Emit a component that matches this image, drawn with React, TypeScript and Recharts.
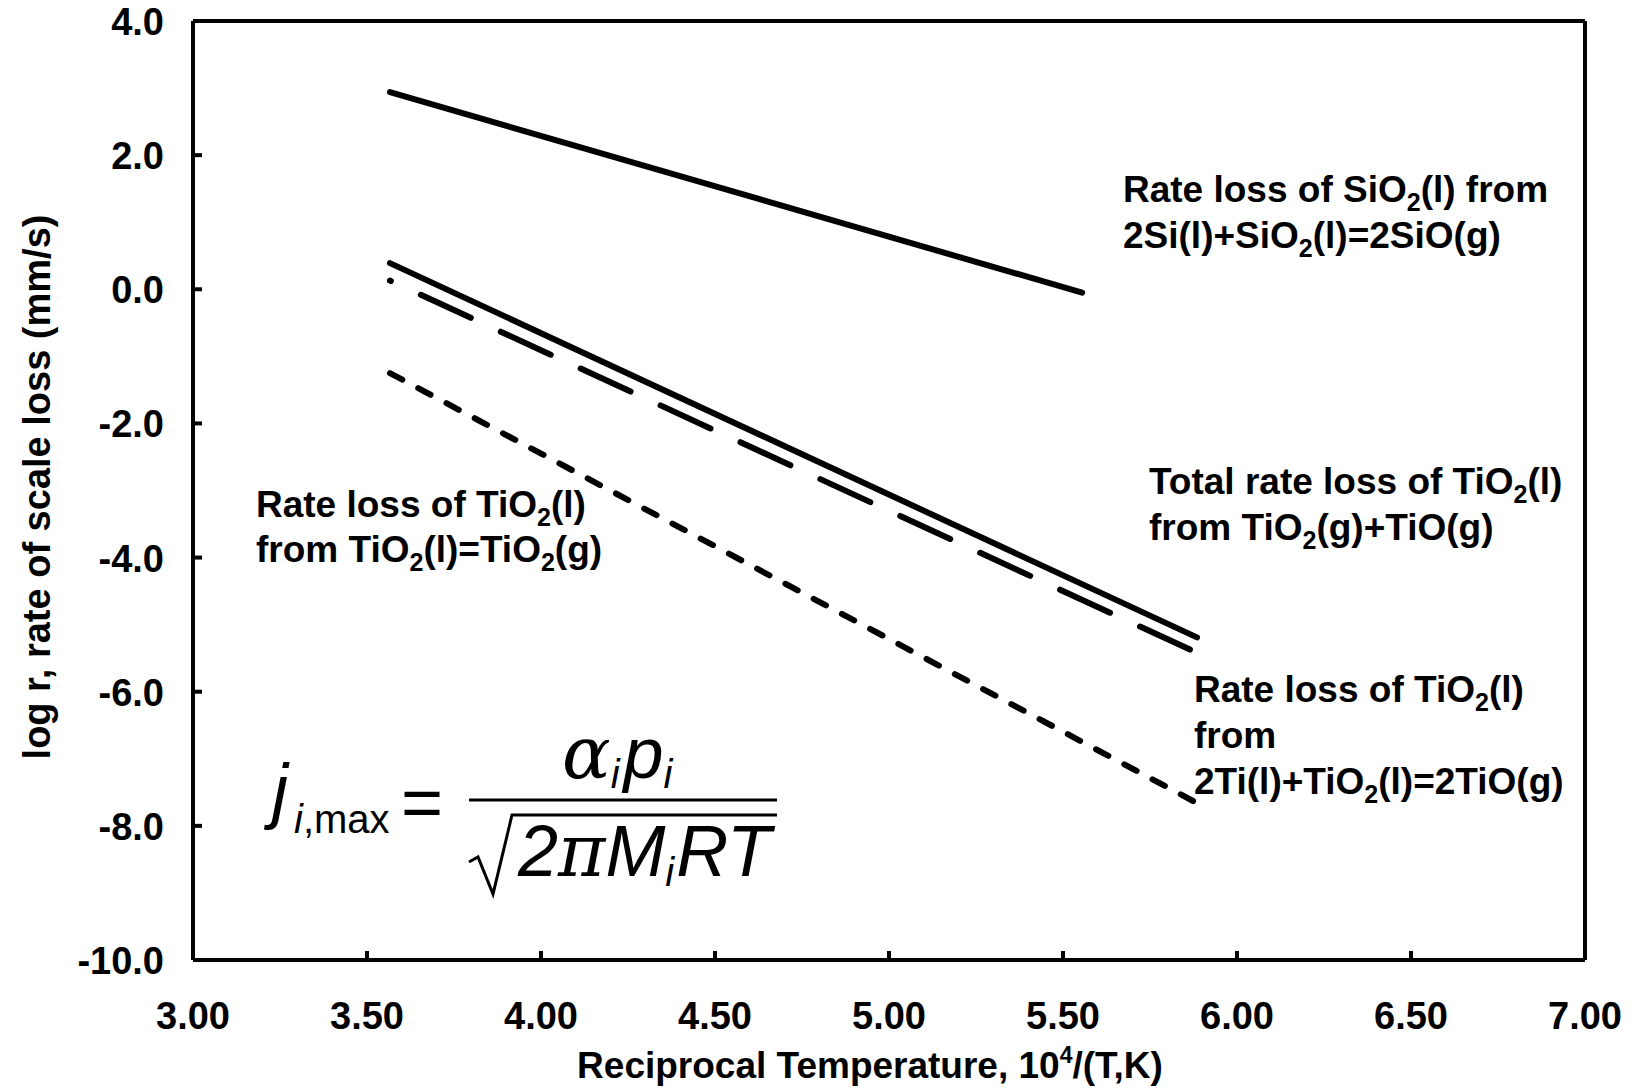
import React from "react"
import { LineChart, Line, XAxis, YAxis, ReferenceLine } from "recharts"

// reciprocal temperature, 10^4/(T,K) vs log r (mm/s)
const sio2X = [3.566, 5.555]
const sio2Y = [2.94, -0.05]

const totalX = [3.566, 5.885]
const totalY = [0.39, -5.19]

const tioX = [3.566, 5.885]
const tioY = [0.13, -5.42]

const tio2X = [3.566, 5.885]
const tio2Y = [-1.25, -7.66]

const xTicks = [3, 3.5, 4, 4.5, 5, 5.5, 6, 6.5, 7]
const yTicks = [-10, -8, -6, -4, -2, 0, 2, 4]

const toPoints = (xs: number[], ys: number[]) => xs.map((x, i) => ({ x, y: ys[i] }))

const sio2 = toPoints(sio2X, sio2Y)
const total = toPoints(totalX, totalY)
const tio = toPoints(tioX, tioY)
const tio2 = toPoints(tio2X, tio2Y)

const FONT = "'Liberation Sans', Arial, Helvetica, sans-serif"
const GREEK = "'DejaVu Serif', 'Liberation Serif', serif"

function YTick(props: any) {
  const { x, y, payload } = props
  return (
    <g>
      <line x1={x} x2={x + 9} y1={y} y2={y} stroke="#000" strokeWidth={4} />
      <text x={x - 29} y={y} dy={14} textAnchor="end" fontFamily={FONT} fontWeight="bold" fontSize={38} fill="#000">
        {payload.value.toFixed(1)}
      </text>
    </g>
  )
}

function XTick(props: any) {
  const { x, y, payload } = props
  return (
    <g>
      <line x1={x} x2={x} y1={y} y2={y - 9} stroke="#000" strokeWidth={4} />
      <text x={x} y={y + 69} textAnchor="middle" fontFamily={FONT} fontWeight="bold" fontSize={38} fill="#000">
        {payload.value.toFixed(2)}
      </text>
    </g>
  )
}

// text with subscripts: strings are normal, arrays hold a subscript
function Rich({ x, y, parts, subSize = 25, shift = 9, ...rest }: any) {
  let down = false
  return (
    <text x={x} y={y} {...rest}>
      {parts.map((p: any, i: number) => {
        if (Array.isArray(p)) {
          down = true
          return (
            <tspan key={i} fontSize={subSize} dy={shift}>
              {p[0]}
            </tspan>
          )
        }
        const dy = down ? -shift : undefined
        down = false
        return (
          <tspan key={i} dy={dy}>
            {p}
          </tspan>
        )
      })}
    </text>
  )
}

function Overlay() {
  const label = { fontFamily: FONT, fontWeight: "bold" as const, fontSize: 37, fill: "#000" }
  return (
    <svg width={1633} height={1090} style={{ position: "absolute", left: 0, top: 0, pointerEvents: "none" }}>
      {/* axis titles */}
      <text x={870} y={1078} textAnchor="middle" {...label}>
        Reciprocal Temperature, 10<tspan fontSize={23} dy={-15}>4</tspan>
        <tspan dy={15}>/(T,K)</tspan>
      </text>
      <text transform="translate(50,487) rotate(-90)" textAnchor="middle" {...label} fontSize={38}>
        log r, rate of scale loss (mm/s)
      </text>

      {/* curve labels */}
      <Rich x={1123} y={202} parts={["Rate loss of SiO", ["2"], "(l) from"]} {...label} />
      <Rich x={1123} y={248} parts={["2Si(l)+SiO", ["2"], "(l)=2SiO(g)"]} {...label} />

      <Rich x={1149} y={494} parts={["Total rate loss of TiO", ["2"], "(l)"]} {...label} />
      <Rich x={1149} y={540} parts={["from TiO", ["2"], "(g)+TiO(g)"]} {...label} />

      <Rich x={1194} y={702} parts={["Rate loss of TiO", ["2"], "(l)"]} {...label} />
      <Rich x={1194} y={748} parts={["from"]} {...label} />
      <Rich x={1194} y={794} parts={["2Ti(l)+TiO", ["2"], "(l)=2TiO(g)"]} {...label} />

      <Rich x={256} y={517} parts={["Rate loss of TiO", ["2"], "(l)"]} {...label} />
      <Rich x={256} y={562} parts={["from TiO", ["2"], "(l)=TiO", ["2"], "(g)"]} {...label} />

      {/* Hertz-Knudsen formula */}
      <g fill="#000" fontFamily={FONT}>
        <text x={272} y={815} fontSize={72} fontStyle="italic">
          j
        </text>
        <text x={294} y={833} fontSize={40}>
          <tspan fontStyle="italic">i</tspan>,max
        </text>
        <text x={401} y={827} fontSize={72}>
          =
        </text>
        <line x1={469} x2={777} y1={800} y2={800} stroke="#000" strokeWidth={3} />
        <text x={562} y={778} fontSize={72} fontStyle="italic">
          <tspan fontFamily={GREEK}>α</tspan>
          <tspan fontSize={40} dy={10}>i</tspan>
          <tspan dx={4} dy={-10}>p</tspan>
          <tspan fontSize={40} dy={10}>i</tspan>
        </text>
        <path d="M469,862 L478,857 L493,894 L512,815 L777,815" fill="none" stroke="#000" strokeWidth={3} />
        <text x={518} y={876} fontSize={72} fontStyle="italic">
          2<tspan fontFamily={GREEK}>π</tspan>M
          <tspan fontSize={40} dy={10}>i</tspan>
          <tspan dx={2} dy={-10}>RT</tspan>
        </text>
      </g>
    </svg>
  )
}

export default function App() {
  return (
    <div style={{ position: "absolute", left: 0, top: 0, width: 1633, height: 1090, background: "#fff" }}>
      <LineChart width={1633} height={1090} margin={{ top: 21, right: 48, bottom: 0, left: 0 }}>
        <XAxis
          type="number"
          dataKey="x"
          domain={[3, 7]}
          ticks={xTicks}
          interval={0}
          height={130}
          tickSize={0}
          tickMargin={0}
          tickLine={false}
          axisLine={{ stroke: "#000", strokeWidth: 4 }}
          tick={<XTick />}
          allowDataOverflow
        />
        <YAxis
          type="number"
          dataKey="y"
          domain={[-10, 4]}
          ticks={yTicks}
          interval={0}
          width={193}
          tickSize={0}
          tickMargin={0}
          tickLine={false}
          axisLine={{ stroke: "#000", strokeWidth: 4 }}
          tick={<YTick />}
          allowDataOverflow
        />
        <ReferenceLine y={4} stroke="#000" strokeWidth={4} />
        <ReferenceLine x={7} stroke="#000" strokeWidth={4} />
        <Line data={sio2} dataKey="y" stroke="#000" strokeWidth={6} strokeLinecap="round" dot={false} isAnimationActive={false} />
        <Line data={total} dataKey="y" stroke="#000" strokeWidth={6} strokeLinecap="round" dot={false} isAnimationActive={false} />
        <Line
          data={tio}
          dataKey="y"
          stroke="#000"
          strokeWidth={6}
          strokeLinecap="round"
          strokeDasharray="55 33"
          strokeDashoffset={54}
          dot={false}
          isAnimationActive={false}
        />
        <Line
          data={tio2}
          dataKey="y"
          stroke="#000"
          strokeWidth={6}
          strokeLinecap="round"
          strokeDasharray="14 18"
          dot={false}
          isAnimationActive={false}
        />
      </LineChart>
      <Overlay />
    </div>
  )
}
